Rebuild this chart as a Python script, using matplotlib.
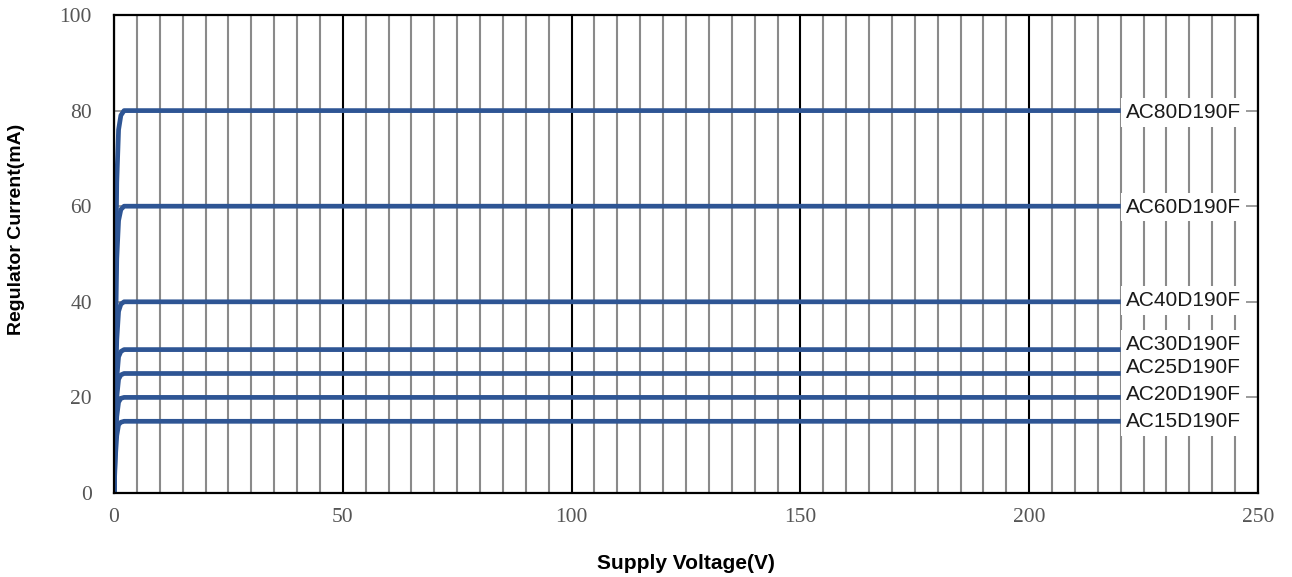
import matplotlib
matplotlib.use("Agg")
import matplotlib.pyplot as plt
from matplotlib.ticker import MultipleLocator

# ---- data ----
models = ["AC80D190F", "AC60D190F", "AC40D190F", "AC30D190F",
          "AC25D190F", "AC20D190F", "AC15D190F"]
voltage = [0, 0.3, 0.6, 1.0, 1.5, 2.2, 220]
i_80 = [0, 40, 65, 76, 79, 80, 80]
i_60 = [0, 30, 49, 57, 59.3, 60, 60]
i_40 = [0, 20, 32, 38, 39.5, 40, 40]
i_30 = [0, 15, 24, 28.5, 29.6, 30, 30]
i_25 = [0, 12.5, 20, 23.8, 24.7, 25, 25]
i_20 = [0, 10, 16, 19, 19.8, 20, 20]
i_15 = [0, 7.5, 12, 14.3, 14.8, 15, 15]
currents = [i_80, i_60, i_40, i_30, i_25, i_20, i_15]
label_y = [79.6, 59.8, 40.3, 31.1, 26.3, 20.6, 14.9]
x_ticks = [0, 50, 100, 150, 200, 250]
y_ticks = [0, 20, 40, 60, 80, 100]

fig = plt.figure(figsize=(12.92, 5.77), dpi=100)
ax = fig.add_axes([114/1292, 1-493/577, 1144/1292, 478/577])

line_color = "#2E5594"
for cur, name, ly in zip(currents, models, label_y):
    ax.plot(voltage, cur, color=line_color, lw=3.4, zorder=3,
            solid_capstyle="butt", solid_joinstyle="round")
    ax.text(voltage[-1] + 1.2, ly, name, fontsize=15,
            family="Liberation Sans", color="#1a1a1a", va="center",
            ha="left", zorder=5,
            bbox=dict(facecolor="white", edgecolor="none", pad=3.5))

ax.set_xlim(0, 250)
ax.set_ylim(0, 100)
ax.set_xticks(x_ticks)
ax.set_yticks(y_ticks)
ax.xaxis.set_minor_locator(MultipleLocator(5))
ax.grid(True, which="minor", axis="x", color="#8a8a8a", lw=1.5, zorder=1)
ax.grid(True, which="major", axis="x", color="black", lw=1.5, zorder=2)
ax.set_axisbelow(True)

for s in ax.spines.values():
    s.set_linewidth(1.6)
    s.set_color("black")
    s.set_zorder(6)

ax.tick_params(axis="x", which="both", length=0, pad=11,
               labelsize=15.5, labelcolor="#555555")
ax.tick_params(axis="y", which="major", direction="in", left=True,
               right=True, length=9, width=1.2, color="#8a8a8a",
               pad=16, labelsize=15.5, labelcolor="#555555")
for lab in ax.get_xticklabels() + ax.get_yticklabels():
    lab.set_family("Liberation Serif")

ax.set_xlabel("Supply Voltage(V)", fontsize=15, fontweight="bold",
              family="Liberation Sans", labelpad=19)
ax.set_ylabel("Regulator Current(mA)", fontsize=14, fontweight="bold",
              family="Liberation Sans")
ax.yaxis.set_label_coords(-0.078, 0.552)

fig.savefig("out.png", dpi=100)
